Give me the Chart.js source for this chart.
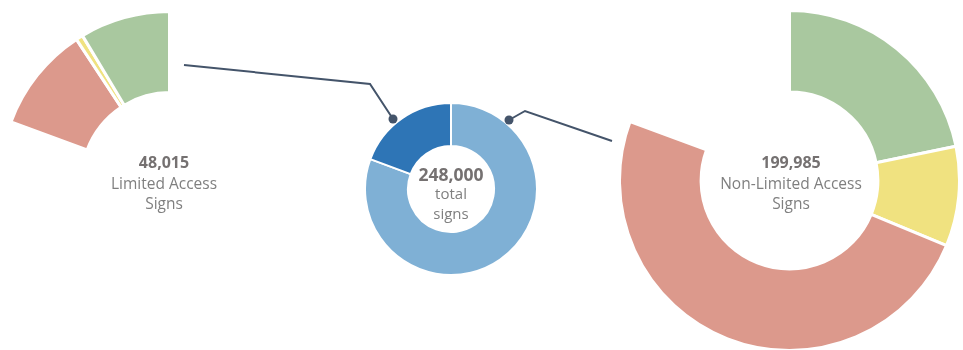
<!DOCTYPE html>
<html>
<head>
<meta charset="utf-8">
<title>Sign inventory</title>
<script src="https://cdn.jsdelivr.net/npm/chart.js@4/dist/chart.umd.min.js"></script>
<style>
  html, body { margin: 0; padding: 0; background: #fff; }
  body { width: 963px; height: 350px; position: relative; overflow: hidden; font-family: "Open Sans", sans-serif; }
  .box { position: absolute; }
  .lbl { position: absolute; text-align: center; color: #7f7f7f; font-size: 15.5px; line-height: 20px; transform: translateX(-50%); white-space: nowrap; }
  .lbl b { color: #757171; font-size: 16px; line-height: 22px; display: block; }
  #midLbl b { font-size: 17.5px; line-height: 20px; }
  #midLbl { font-size: 15px; line-height: 19.5px; }
  svg { position: absolute; left: 0; top: 0; }
</style>
</head>
<body>

<div class="box" id="leftBox" style="left:-1px; top:10px; width:341px; height:341px;"><canvas id="leftChart"></canvas></div>
<div class="box" id="midBox" style="left:364px; top:102px; width:174px; height:174px;"><canvas id="midChart"></canvas></div>
<div class="box" id="rightBox" style="left:618px; top:9px; width:343px; height:343px;"><canvas id="rightChart"></canvas></div>

<svg width="963" height="350">
  <polyline points="184,65 370,84 393,119" fill="none" stroke="#44546a" stroke-width="2"/>
  <circle cx="393" cy="119" r="4.5" fill="#44546a"/>
  <polyline points="509,120 525,111 612,141" fill="none" stroke="#44546a" stroke-width="2"/>
  <circle cx="509" cy="120" r="4.5" fill="#44546a"/>
</svg>

<div class="lbl" id="leftLbl" style="left:164px; top:151px;"></div>
<div class="lbl" id="midLbl" style="left:451px; top:164px;"></div>
<div class="lbl" id="rightLbl" style="left:791px; top:151px;"></div>

<script>
// totals
const totalSigns = 248000;
const groupNames = ['Limited Access', 'Non-Limited Access'];
const groupTotals = [48015, 199985];

// condition breakdown (green, yellow, red)
const conditions = ['Good', 'Fair', 'Poor'];
const conditionColors = ['#a9c89f', '#f0e280', '#dc998c'];
const limitedValues = [21350, 1665, 25000];
const nonLimitedValues = [54010, 23490, 122485];

const groupColors = ['#2e75b6', '#7fb0d5'];

const fmt = n => n.toLocaleString('en-US');

Chart.defaults.animation = false;
const baseOpts = {
  responsive: true,
  maintainAspectRatio: false,
  plugins: { legend: { display: false }, tooltip: { enabled: false } },
  events: []
};

// middle ring: non-limited first so it starts at 12 o'clock, limited last
new Chart(document.getElementById('midChart'), {
  type: 'doughnut',
  data: {
    labels: [groupNames[1], groupNames[0]],
    datasets: [{
      data: [groupTotals[1], groupTotals[0]],
      backgroundColor: [groupColors[1], groupColors[0]],
      borderColor: '#fff',
      borderWidth: 2
    }]
  },
  options: Object.assign({ cutout: '50%' }, baseOpts)
});

// left ring: only the limited-access slice is painted, the rest stays empty
new Chart(document.getElementById('leftChart'), {
  type: 'doughnut',
  data: {
    labels: ['', conditions[2], conditions[1], conditions[0]],
    datasets: [{
      data: [groupTotals[1], limitedValues[2], limitedValues[1], limitedValues[0]],
      backgroundColor: ['rgba(0,0,0,0)', conditionColors[2], conditionColors[1], conditionColors[0]],
      borderColor: ['rgba(0,0,0,0)', '#fff', '#fff', '#fff'],
      borderWidth: 3
    }]
  },
  options: Object.assign({ cutout: '52%' }, baseOpts)
});

// right ring: non-limited breakdown, limited part left blank
new Chart(document.getElementById('rightChart'), {
  type: 'doughnut',
  data: {
    labels: [conditions[0], conditions[1], conditions[2], ''],
    datasets: [{
      data: [nonLimitedValues[0], nonLimitedValues[1], nonLimitedValues[2], groupTotals[0]],
      backgroundColor: [conditionColors[0], conditionColors[1], conditionColors[2], 'rgba(0,0,0,0)'],
      borderColor: ['#fff', '#fff', '#fff', 'rgba(0,0,0,0)'],
      borderWidth: 3
    }]
  },
  options: Object.assign({ cutout: '52%' }, baseOpts)
});

document.getElementById('leftLbl').innerHTML = '<b>' + fmt(groupTotals[0]) + '</b>' + groupNames[0] + '<br>Signs';
document.getElementById('midLbl').innerHTML = '<b>' + fmt(totalSigns) + '</b>total<br>signs';
document.getElementById('rightLbl').innerHTML = '<b>' + fmt(groupTotals[1]) + '</b>' + groupNames[1] + '<br>Signs';
</script>
</body>
</html>
